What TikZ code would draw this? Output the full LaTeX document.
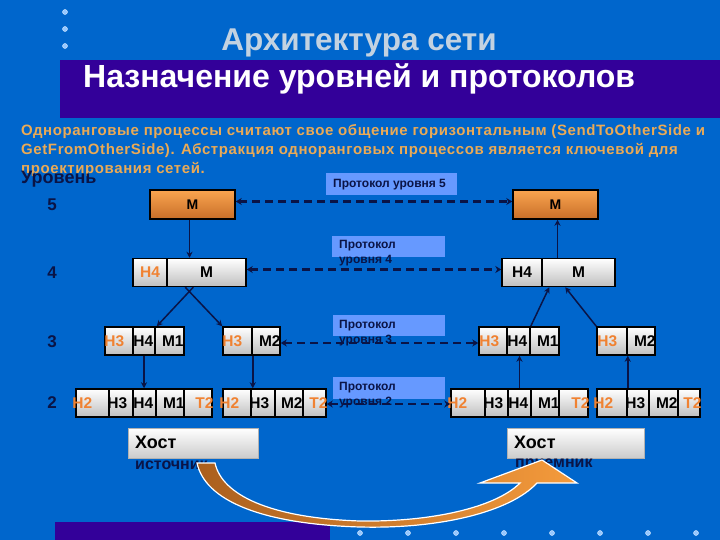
\documentclass[tikz,border=0pt]{standalone}
\usepackage{fontspec}
\setmainfont{Liberation Sans}
\newfontfamily\bodyfont[LetterSpace=4]{Liberation Sans}
\usetikzlibrary{arrows.meta}
\definecolor{bg}{RGB}{0,102,204}
\definecolor{band}{RGB}{51,0,153}
\definecolor{protobox}{RGB}{102,153,255}
\definecolor{navy}{RGB}{10,20,70}
\definecolor{hdr}{RGB}{240,130,50}
\definecolor{gold}{RGB}{235,170,85}
\definecolor{titlec}{RGB}{195,210,225}
\definecolor{dotc}{RGB}{150,200,255}
\definecolor{orTop}{RGB}{250,165,80}
\definecolor{orBot}{RGB}{200,110,40}
\definecolor{arrL}{RGB}{170,95,30}
\definecolor{arrR}{RGB}{245,155,60}
\newcommand\mkcell[7]{%
  \pgfmathsetmacro\mycw{#3-#2}\pgfmathsetmacro\mycx{(#2+#3)/2}%
  \node[cellbox, minimum width=\mycw pt] (#1) at (\mycx,#4) {};
  \node[celltxt, anchor=#5, xshift=#6pt] at (#1.#5) {#7};}
\begin{document}
\begin{tikzpicture}[x=1pt,y=-1pt,
  cellbox/.style={draw=black, line width=1.5pt, top color=white, bottom color=black!25, minimum height=28pt, inner sep=0pt},
  celltxt/.style={inner sep=1pt, font=\bfseries\fontsize{15.5}{15.5}\selectfont},
  mbox/.style={draw=black, line width=1.5pt, top color=orTop, bottom color=orBot, minimum height=29pt, minimum width=85pt, inner sep=0pt, font=\bfseries\fontsize{14}{14}\selectfont},
  proto/.style={fill=protobox, inner sep=0pt},
  prototxt/.style={inner sep=0pt, align=left, font=\bfseries\fontsize{12}{15.5}\selectfont, text=navy},
  lvl/.style={font=\bfseries\fontsize{17}{17}\selectfont, text=navy},
  dashline/.style={draw=navy, line width=2.5pt, dash pattern=on 8pt off 5pt, {Stealth[length=6pt,width=7pt]}-{Stealth[length=6pt,width=7pt]}},
  vert/.style={draw=navy, line width=1.5pt, -{Stealth[length=6pt,width=6pt]}},
  host/.style={top color=white, bottom color=black!20, draw=black!30, line width=0.5pt, minimum width=130pt, minimum height=30pt, inner sep=0pt},
  dotn/.style={circle, fill=dotc, draw=white!70!dotc, inner sep=0pt, minimum size=5pt}]
\useasboundingbox (0,0) rectangle (720,540);
\fill[bg] (0,0) rectangle (720,540);
\fill[band] (60,60) rectangle (720,118);
\fill[band] (55,522) rectangle (330,540);
% dots
\foreach \yy [count=\i] in {12,29,46} \node[dotn] (td\i) at (65,\yy) {};
\foreach \xx [count=\i] in {360,408,456,504,552,600,648,696} \node[dotn] (bd\i) at (\xx,533) {};
% titles
\node[font=\bfseries\fontsize{31.5}{31.5}\selectfont, text=titlec] (title) at (359,43) {Архитектура сети};
\node[font=\bfseries\fontsize{32}{32}\selectfont, text=white, anchor=west, inner sep=0pt] (sub) at (83,79) {Назначение уровней и протоколов};
% body
\node[font=\bodyfont\bfseries\fontsize{15}{15}\selectfont, text=gold, anchor=west, inner sep=0pt] (b1) at (21,132) {Одноранговые процессы считают свое общение горизонтальным (SendToOtherSide и};
\node[font=\bodyfont\bfseries\fontsize{15}{15}\selectfont, text=gold, anchor=west, inner sep=0pt] (b2) at (21,150) {GetFromOtherSide). Абстракция одноранговых процессов является ключевой для};
\node[font=\bodyfont\bfseries\fontsize{15}{15}\selectfont, text=gold, anchor=west, inner sep=0pt] (b3) at (21,169) {проектирования сетей.};
\node[font=\bfseries\fontsize{18}{18}\selectfont, text=navy, anchor=west, inner sep=0pt] (ur) at (21,179) {Уровень};
% level numbers
\node[lvl] (n5) at (52,205) {5};
\node[lvl] (n4) at (52,273) {4};
\node[lvl] (n3) at (52,342) {3};
\node[lvl] (n2) at (52,403) {2};
% protocol boxes
\fill[proto] (326,173) rectangle (457,195);
\node[prototxt, anchor=west] (p5) at (333,185) {Протокол уровня 5};
\fill[proto] (332,236) rectangle (445,257);
\node[prototxt, anchor=north west] (p4) at (339,240) {Протокол\\уровня 4};
\fill[proto] (333,315) rectangle (445,336);
\node[prototxt, anchor=north west] (p3) at (339,320) {Протокол\\уровня 3};
\fill[proto] (333,377) rectangle (445,399);
\node[prototxt, anchor=north west] (p2) at (339,382) {Протокол\\уровня 2};
% level 5
\node[mbox] (m5L) at (192.5,204.5) {M};
\node[mbox] (m5R) at (555.5,204.5) {M};
% level 4
\mkcell{l4a1}{133}{167}{272.5}{center}{0}{\color{hdr}H4}
\mkcell{l4a2}{167}{246}{272.5}{center}{0}{M}
\mkcell{r4a1}{502}{542}{272.5}{center}{0}{H4}
\mkcell{r4a2}{542}{615}{272.5}{center}{0}{M}
% level 3
\mkcell{l3a1}{105}{133}{341}{west}{-1}{\color{hdr}H3}
\mkcell{l3a2}{133}{155}{341}{west}{0}{H4}
\mkcell{l3a3}{155}{184}{341}{east}{0}{M1}
\mkcell{l3b1}{223}{252}{341}{west}{-1}{\color{hdr}H3}
\mkcell{l3b2}{252}{280}{341}{east}{1}{M2}
\mkcell{r3a1}{479}{507}{341}{west}{0}{\color{hdr}H3}
\mkcell{r3a2}{507}{530}{341}{west}{0}{H4}
\mkcell{r3a3}{530}{559}{341}{east}{0}{M1}
\mkcell{r3b1}{597}{627}{341}{west}{0}{\color{hdr}H3}
\mkcell{r3b2}{627}{655}{341}{east}{1}{M2}
% level 2
\mkcell{l2a1}{76}{109}{403}{west}{-4}{\color{hdr}H2}
\mkcell{l2a2}{109}{133}{403}{west}{-2}{H3}
\mkcell{l2a3}{133}{156}{403}{west}{0}{H4}
\mkcell{l2a4}{156}{184}{403}{east}{1}{M1}
\mkcell{l2a5}{184}{212}{403}{east}{2}{\color{hdr}T2}
\mkcell{l2b1}{223}{251}{403}{west}{-4}{\color{hdr}H2}
\mkcell{l2b2}{251}{275}{403}{west}{-2}{H3}
\mkcell{l2b3}{275}{303}{403}{east}{0}{M2}
\mkcell{l2b4}{303}{326}{403}{east}{2}{\color{hdr}T2}
\mkcell{r2a1}{451}{485}{403}{west}{-4}{\color{hdr}H2}
\mkcell{r2a2}{485}{508}{403}{west}{-2}{H3}
\mkcell{r2a3}{508}{531}{403}{west}{0}{H4}
\mkcell{r2a4}{531}{559}{403}{east}{1}{M1}
\mkcell{r2a5}{559}{588}{403}{east}{2}{\color{hdr}T2}
\mkcell{r2b1}{597}{627}{403}{west}{-4}{\color{hdr}H2}
\mkcell{r2b2}{627}{649}{403}{west}{-2}{H3}
\mkcell{r2b3}{649}{678}{403}{east}{0}{M2}
\mkcell{r2b4}{678}{700}{403}{east}{2}{\color{hdr}T2}
% dashed protocol connectors
\draw[dashline] ([yshift=3pt]m5L.east) -- ([yshift=3pt]m5R.west);
\draw[dashline] ([yshift=3pt]l4a2.east) -- ([yshift=3pt]r4a1.west);
\draw[dashline] ([yshift=-2pt]l3b2.east) -- ([yshift=-2pt]r3a1.west);
\draw[dashline] ([yshift=-1pt]l2b4.east) -- ([yshift=-1pt]r2a1.west);
% vertical connectors
\draw[vert] ([xshift=-3pt]m5L.south) -- ([xshift=-3pt]m5L.south |- l4a2.north);
\draw[vert] ([xshift=2pt]m5R.south |- r4a2.north) -- ([xshift=2pt]m5R.south);
\draw[vert] ([xshift=27pt]l4a2.south west) -- ([xshift=1pt]l3a2.north east);
\draw[vert] ([xshift=19pt]l4a2.south west) -- (l3b1.north west);
\draw[vert] (r3a2.north east) -- ([xshift=8pt]r4a2.south west);
\draw[vert] (r3b1.north west) -- ([xshift=24pt]r4a2.south west);
\draw[vert] (l3a2.south) -- (l3a2.south |- l2a3.north);
\draw[vert] (l3b1.south east) -- (l3b1.south east |- l2b1.north);
\draw[vert] (r2a3.north) -- (r2a3.north |- r3a2.south);
\draw[vert] (r2b1.north east) -- (r2b1.north east |- r3b1.south);
% hosts
\node[host] (hs) at (193,443) {};
\node[font=\bfseries\fontsize{18}{18}\selectfont, anchor=west, inner sep=0pt] (hst) at (135,442) {Хост};
\node[font=\bfseries\fontsize{16}{16}\selectfont, text=navy, anchor=west, inner sep=0pt] (hsl) at (135,465) {источник};
\node[host, minimum width=137pt] (hr) at (575.5,443) {};
\node[font=\bfseries\fontsize{18}{18}\selectfont, anchor=west, inner sep=0pt] (hrt) at (514,442) {Хост};
\node[font=\bfseries\fontsize{16}{16}\selectfont, text=navy, anchor=west, inner sep=0pt] (hrl) at (515,465) {приемник};
% big curved arrow
\path[draw=white, line width=1.2pt, left color=arrL, right color=arrR]
  (197,463) .. controls (205,500) and (260,524) .. (360,527)
  .. controls (440,529) and (510,512) .. (537,483)
  -- (577,483) -- (542,460) -- (480,483) -- (520,483)
  .. controls (495,508) and (430,522) .. (360,521)
  .. controls (270,518) and (222,495) .. (215,463) -- cycle;
\end{tikzpicture}
\end{document}
